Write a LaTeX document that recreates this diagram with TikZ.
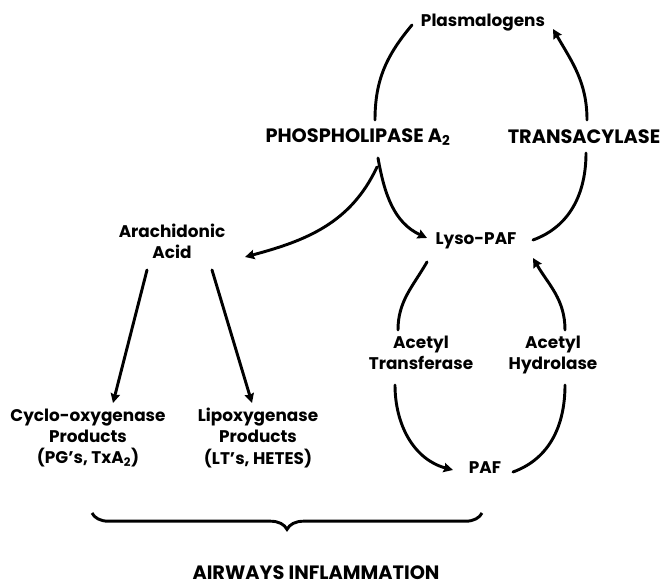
\documentclass[tikz,border=0pt]{standalone}
\usepackage{fontspec}
\setmainfont{Poppins}
\usetikzlibrary{calc,arrows.meta,decorations.pathreplacing}

\begin{document}
\begin{tikzpicture}[x=0.03cm, y=0.03cm,
    lbl/.style={align=center, inner sep=0pt, font=\bfseries\fontsize{14.4}{18}\selectfont},
    caps/.style={lbl, font=\bfseries\fontsize{16.5}{18}\selectfont},
    arr/.style={line width=2.5pt, line cap=round, -{Stealth[length=8pt, width=8pt, inset=1pt]}},
    arc/.style={line width=2.5pt, line cap=round}]
    \useasboundingbox (0,0) rectangle (668,588);

    \node (plas) [lbl] at (483,565) {Plasmalogens};
    \node (pla) [caps] at (358,451) {PHOSPHOLIPASE A\textsubscript{2}};
    \node (trans) [caps] at (584,451) {TRANSACYLASE};
    \node (lyso) [lbl] at (476,347) {Lyso-PAF};
    \node (arach) [lbl] at (172,347) {Arachidonic\\Acid};
    \node (cox) [lbl] at (88,150) {Cyclo-oxygenase\\Products\\(PG's, TxA\textsubscript{2})};
    \node (lox) [lbl] at (258,150) {Lipoxygenase\\Products\\(LT's, HETES)};
    \node (acT) [lbl] at (421,235) {Acetyl\\Transferase};
    \node (acH) [lbl] at (553,233) {Acetyl\\Hydrolase};
    \node (paf) [lbl] at (485,120) {PAF};
    \node (airways) [caps] at (316,15) {AIRWAYS INFLAMMATION};

    % plasmalogen cycle
    \draw[arc] ($(pla)+(17,17)$) to[out=90, in=-130] ($(plas)+(-71,-2)$);
    \draw[arr] ($(pla)+(20,-21)$) to[out=-80, in=155] ($(lyso)+(-49,3)$);
    \draw[arr] ($(pla)+(19,-30)$) to[out=-115, in=15] ($(arach)+(73,-16)$);
    \draw[arc] ($(lyso)+(57,1)$) to[out=20, in=-90] ($(trans)+(2,-16)$);
    \draw[arr] ($(trans)+(3,17)$) to[out=90, in=-60] ($(plas)+(70,-6)$);

    % PAF cycle
    \draw[arc] ($(lyso)+(-49,-21)$) to[out=-120, in=90] ($(acT)+(-23,23)$);
    \draw[arr] ($(acT)+(-26,-32)$) to[out=-90, in=165] ($(paf)+(-32,-2)$);
    \draw[arc] ($(paf)+(28,-4)$) to[out=20, in=-90] ($(acH)+(12,-30)$);
    \draw[arr] ($(acH)+(12,25)$) to[out=90, in=-60] ($(lyso)+(57,-17)$);

    % arachidonic acid products
    \draw[arr] ($(arach)+(-25,-29)$) -- ($(cox)+(25,35)$);
    \draw[arr] ($(arach)+(40,-29)$) -- ($(lox)+(-6,35)$);

    \coordinate (braceL) at (92,75);
    \coordinate (braceR) at (482,75);
    \draw[line width=2.5pt, decorate, decoration={brace, amplitude=14}] (braceR) -- (braceL);
\end{tikzpicture}
\end{document}
